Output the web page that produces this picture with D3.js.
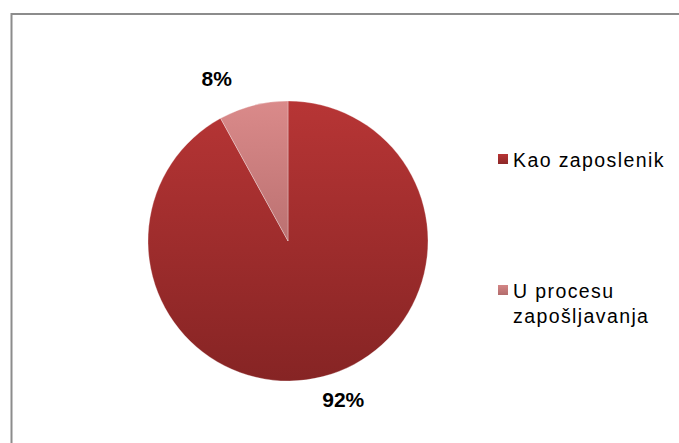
<!DOCTYPE html>
<html>
<head>
<meta charset="utf-8">
<script src="https://cdn.jsdelivr.net/npm/d3@7/dist/d3.min.js"></script>
<style>
  html, body { margin: 0; padding: 0; background: #fff; overflow: hidden; }
  svg { display: block; }
</style>
</head>
<body>
<svg id="chart" width="679" height="443"></svg>
<script>
// Employment status shares
const categories = ["Kao zaposlenik", "U procesu zapošljavanja"];
const values = [92, 8];
const legendLines = [["Kao zaposlenik"], ["U procesu", "zapošljavanja"]];

const svg = d3.select("#chart");

// Chart area frame (extends past the visible window on the right and bottom)
svg.append("rect")
  .attr("x", 11.5).attr("y", 14)
  .attr("width", 720).attr("height", 480)
  .attr("fill", "#fff")
  .attr("stroke", "#8c8c8c")
  .attr("stroke-width", 2);

const cx = 288, cy = 241, r = 140;

// Vertical gradients for each slice, spanning the whole pie (group coordinates)
const defs = svg.append("defs");
const palettes = [
  { top: "#b73535", bottom: "#862424" },
  { top: "#da8a8a", bottom: "#9c5858" }
];
palettes.forEach((p, i) => {
  const lg = defs.append("linearGradient")
    .attr("id", "slice" + i)
    .attr("gradientUnits", "userSpaceOnUse")
    .attr("x1", 0).attr("y1", -r)
    .attr("x2", 0).attr("y2", r);
  lg.append("stop").attr("offset", "0%").attr("stop-color", p.top);
  lg.append("stop").attr("offset", "100%").attr("stop-color", p.bottom);
});
const legendPalettes = [
  { top: "#b83434", bottom: "#8c2828" },
  { top: "#d48686", bottom: "#b26c6c" }
];
legendPalettes.forEach((p, i) => {
  const lg = defs.append("linearGradient")
    .attr("id", "key" + i)
    .attr("x1", 0).attr("y1", 0).attr("x2", 0).attr("y2", 1);
  lg.append("stop").attr("offset", "0%").attr("stop-color", p.top);
  lg.append("stop").attr("offset", "100%").attr("stop-color", p.bottom);
});

const pie = d3.pie().sort(null).value(d => d);
const arcs = pie(values);
const arc = d3.arc().innerRadius(0).outerRadius(r);

const g = svg.append("g").attr("transform", `translate(${cx},${cy})`);
g.selectAll("path.slice")
  .data(arcs)
  .join("path")
  .attr("class", "slice")
  .attr("d", arc)
  .attr("fill", (d, i) => `url(#slice${i})`)
  .attr("stroke", "rgba(255,255,255,0.5)")
  .attr("stroke-width", 0.6);

// Percentage labels outside the pie, nudged to their best-fit spots
const labelArc = d3.arc().innerRadius(r + 30).outerRadius(r + 30);
const labelNudge = [[13, -6], [-29, 2]];
g.selectAll("text.pct")
  .data(arcs)
  .join("text")
  .attr("class", "pct")
  .attr("x", (d, i) => labelArc.centroid(d)[0] + labelNudge[i][0])
  .attr("y", (d, i) => labelArc.centroid(d)[1] + labelNudge[i][1])
  .attr("text-anchor", "middle")
  .attr("dominant-baseline", "central")
  .attr("font-family", "Liberation Sans, Arial, sans-serif")
  .attr("font-weight", "bold")
  .attr("font-size", 21)
  .attr("fill", "#000")
  .text(d => d.value + "%");

// Legend
const legendY = [153, 284];
const leg = svg.append("g");
legendLines.forEach((lines, i) => {
  leg.append("rect")
    .attr("x", 498).attr("y", legendY[i] + 1)
    .attr("width", 10).attr("height", 10)
    .attr("fill", `url(#key${i})`);
  const t = leg.append("text")
    .attr("x", 513)
    .attr("y", legendY[i] + 14)
    .attr("font-family", "Liberation Sans, Arial, sans-serif")
    .attr("font-size", 19.5)
    .attr("letter-spacing", 1.4)
    .attr("fill", "#000");
  lines.forEach((ln, j) => {
    t.append("tspan")
      .attr("x", 513)
      .attr("dy", j === 0 ? 0 : 25)
      .text(ln);
  });
});
</script>
</body>
</html>
